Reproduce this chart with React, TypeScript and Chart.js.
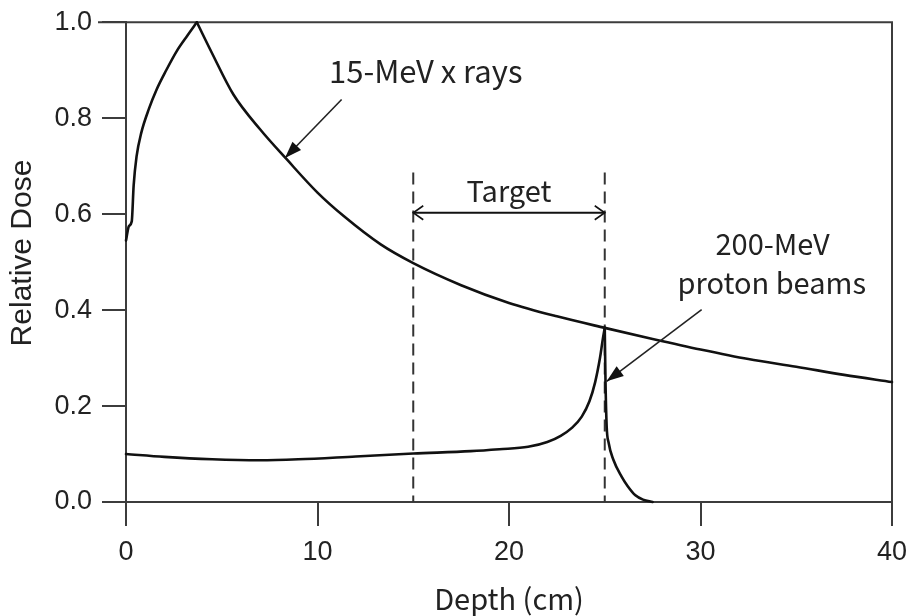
import React, { useEffect, useRef } from "react";
import { Chart, registerables } from "chart.js";

Chart.register(...registerables);

// 15-MeV x rays: depth (cm) and relative dose
const photonDepth = [0, 0.15, 0.3, 0.4, 0.55, 0.8, 1.2, 1.6, 2.1, 2.65, 3.2, 3.7, 4.5, 5.6, 7.0, 8.4, 10, 11.4, 13.3, 15, 17.5, 20, 22.5, 25, 27.5, 30, 32.5, 35, 37.5, 40];
const photonDose = [0.545, 0.575, 0.585, 0.66, 0.72, 0.77, 0.82, 0.86, 0.9, 0.94, 0.972, 1.0, 0.935, 0.85, 0.777, 0.714, 0.645, 0.595, 0.537, 0.498, 0.452, 0.415, 0.387, 0.363, 0.34, 0.318, 0.298, 0.282, 0.265, 0.25];

// 200-MeV proton beams: depth (cm) and relative dose
const protonDepth = [0, 2, 4.5, 7, 9, 12, 15, 18, 19.5, 21, 22, 22.7, 23.3, 23.8, 24.2, 24.5, 24.75, 24.9, 25.0, 25.04, 25.1, 25.2, 25.45, 25.88, 26.2, 26.6, 27.0, 27.5];
const protonDose = [0.1, 0.094, 0.089, 0.087, 0.089, 0.095, 0.101, 0.106, 0.11, 0.115, 0.125, 0.138, 0.155, 0.178, 0.21, 0.25, 0.3, 0.34, 0.363, 0.25, 0.158, 0.124, 0.088, 0.053, 0.033, 0.014, 0.005, 0];

const xTicks = [0, 10, 20, 30, 40];
const yTicks = [0, 0.2, 0.4, 0.6, 0.8, 1.0];

const targetStart = 15;
const targetEnd = 25;

const AXIS = "#3c3c3c";
const INK = "#111111";
const TEXT = "#222222";
const JP = "'Noto Sans CJK JP', 'Noto Sans', sans-serif";
const SANS = "'Liberation Sans', Arial, sans-serif";

function arrowHead(ctx: CanvasRenderingContext2D, x1: number, y1: number, x2: number, y2: number, len: number, half: number, filled: boolean) {
  const a = Math.atan2(y2 - y1, x2 - x1);
  const bx = x2 - len * Math.cos(a);
  const by = y2 - len * Math.sin(a);
  const px = -Math.sin(a) * half;
  const py = Math.cos(a) * half;
  ctx.beginPath();
  ctx.moveTo(bx + px, by + py);
  ctx.lineTo(x2, y2);
  ctx.lineTo(bx - px, by - py);
  if (filled) {
    ctx.closePath();
    ctx.fill();
  } else {
    ctx.stroke();
  }
}

const annotations = {
  id: "annotations",
  beforeDatasetsDraw(chart: any) {
    const { ctx, scales } = chart;
    const xs = scales.x;
    const ys = scales.y;
    ctx.save();
    ctx.strokeStyle = AXIS;
    ctx.lineWidth = 2;
    ctx.beginPath();
    ctx.moveTo(xs.left - 28, ys.top);
    ctx.lineTo(xs.right, ys.top);
    ctx.lineTo(xs.right, ys.bottom);
    ctx.stroke();
    ctx.setLineDash([12, 7]);
    ctx.strokeStyle = "#333";
    for (const v of [targetStart, targetEnd]) {
      const px = xs.getPixelForValue(v);
      ctx.beginPath();
      ctx.moveTo(px, ys.getPixelForValue(0.687));
      ctx.lineTo(px, ys.bottom);
      ctx.stroke();
    }
    ctx.restore();
  },
  afterDatasetsDraw(chart: any) {
    const { ctx, scales } = chart;
    const xs = scales.x;
    const ys = scales.y;
    const X = (v: number) => xs.getPixelForValue(v);
    const Y = (v: number) => ys.getPixelForValue(v);
    ctx.save();
    ctx.strokeStyle = INK;
    ctx.lineWidth = 2;
    const ay = Y(0.603);
    ctx.beginPath();
    ctx.moveTo(X(targetStart), ay);
    ctx.lineTo(X(targetEnd), ay);
    ctx.stroke();
    ctx.lineWidth = 1.6;
    arrowHead(ctx, X(targetEnd) - 20, ay, X(targetEnd), ay, 10, 7, false);
    arrowHead(ctx, X(targetStart) + 20, ay, X(targetStart), ay, 10, 7, false);

    ctx.strokeStyle = "#222";
    ctx.fillStyle = "#111";
    ctx.lineWidth = 1.6;
    const arrows = [
      [11.26, 0.839, 8.3, 0.717],
      [30.06, 0.401, 25.1, 0.2515],
    ];
    for (const [sx, sy, tx, ty] of arrows) {
      ctx.beginPath();
      ctx.moveTo(X(sx), Y(sy));
      ctx.lineTo(X(tx), Y(ty));
      ctx.stroke();
      arrowHead(ctx, X(sx), Y(sy), X(tx), Y(ty), 17, 6, true);
    }

    ctx.fillStyle = TEXT;
    ctx.textAlign = "center";
    ctx.textBaseline = "middle";
    ctx.font = `31px ${JP}`;
    ctx.fillText("15-MeV x rays", X(15.65), Y(0.898));
    ctx.font = `29px ${JP}`;
    ctx.fillText("Target", X(20), Y(0.648));
    ctx.fillText("200-MeV", X(33.76), Y(0.537));
    ctx.fillText("proton beams", X(33.72), Y(0.457));

    ctx.save();
    ctx.translate(23, 253);
    ctx.rotate(-Math.PI / 2);
    ctx.font = `30px ${SANS}`;
    ctx.fillText("Relative Dose", 0, 0);
    ctx.restore();
    ctx.restore();
  },
};

function split<T>(arr: T[], at: number): [T[], T[]] {
  return [arr.slice(0, at + 1), arr.slice(at)];
}

export default function App() {
  const ref = useRef<HTMLCanvasElement | null>(null);
  useEffect(() => {
    if (!ref.current) return;
    const photonPts = photonDepth.map((x, i) => ({ x, y: photonDose[i] }));
    const protonPts = protonDepth.map((x, i) => ({ x, y: protonDose[i] }));
    const pPeak = photonDose.indexOf(Math.max(...photonDose));
    const qPeak = protonDose.indexOf(Math.max(...protonDose));
    const line = (data: any[]) => ({
      data,
      borderColor: INK,
      borderWidth: 2.6,
      pointRadius: 0,
      cubicInterpolationMode: "monotone",
      clip: false,
      borderCapStyle: "round",
      borderJoinStyle: "round",
    });
    const datasets = [...split(photonPts, pPeak), ...split(protonPts, qPeak)].map(line);
    const chart = new Chart(ref.current, {
      type: "line",
      data: { datasets },
      plugins: [annotations],
      options: {
        animation: false,
        responsive: false,
        events: [],
        layout: { padding: 0 },
        plugins: { legend: { display: false }, tooltip: { enabled: false } },
        scales: {
          x: {
            type: "linear",
            min: 0,
            max: 40,
            afterFit: (s: any) => { s.height = 114; s.paddingRight = 20; s.paddingLeft = 0; },
            afterBuildTicks: (s: any) => { s.ticks = xTicks.map((v) => ({ value: v })); },
            border: { display: true, color: AXIS, width: 2 },
            grid: { drawOnChartArea: false, drawTicks: true, tickLength: 24, color: AXIS, lineWidth: 2 },
            ticks: { padding: 10, color: TEXT, font: { family: SANS, size: 27 }, maxRotation: 0 },
            title: { display: true, text: "Depth (cm)", color: TEXT, font: { family: JP, size: 29 }, padding: { top: 0, bottom: 0 } },
          },
          y: {
            type: "linear",
            min: 0,
            max: 1,
            afterFit: (s: any) => { s.width = 126; s.paddingTop = 22.3; s.paddingBottom = 0; },
            afterBuildTicks: (s: any) => { s.ticks = yTicks.map((v) => ({ value: v })); },
            border: { display: true, color: AXIS, width: 2 },
            grid: { drawOnChartArea: false, drawTicks: true, tickLength: 24, color: AXIS, lineWidth: 2 },
            ticks: { padding: 10, color: TEXT, font: { family: SANS, size: 27 }, callback: (v: any) => Number(v).toFixed(1) },
            title: { display: false },
          },
        },
      },
    } as any);
    return () => chart.destroy();
  }, []);
  return (
    <div style={{ position: "fixed", left: 0, top: 0, width: 912, height: 616, background: "#fff" }}>
      <canvas ref={ref} width={912} height={616} style={{ display: "block" }} />
    </div>
  );
}
